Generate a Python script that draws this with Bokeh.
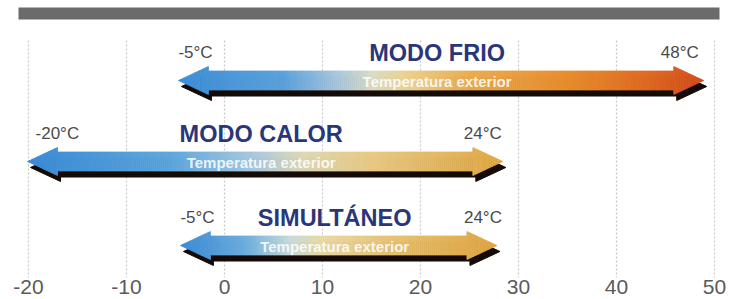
import numpy as np
from bokeh.plotting import figure
from bokeh.models import Range1d, FixedTicker, ColumnDataSource
from bokeh.core.properties import value
from bokeh.embed import file_html
from bokeh.resources import INLINE

# ---------------- data ----------------
modes = ["MODO FRIO", "MODO CALOR", "SIMULTÁNEO"]
range_min = [-5, -20, -5]          # labelled limits (°C)
range_max = [48, 24, 24]
arrow_start = [-4.7, -20.1, -4.5]  # where the drawn arrows start / end (axis units)
arrow_end = [48.9, 28.4, 27.8]
sublabel = "Temperatura exterior"
x_ticks = [-20, -10, 0, 10, 20, 30, 40, 50]
x_tick_labels = ["-20", "-10", "0", "10", "20", "30", "40", "50"]

min_labels = [f"{v}°C" for v in range_min]
max_labels = [f"{v}°C" for v in range_max]

# ---------------- layout / style ----------------
W, H = 736, 296
PX = 9.8                           # pixels per axis unit
X0 = -224 / PX
X1 = X0 + W / PX
AXIS_H = 19
Y_BOTTOM, Y_TOP = H - AXIS_H, 0    # y data == page pixel row
row_y = [80, 161, 245]             # arrow centre rows
HEAD_LEN = 30 / PX
HEAD_HALF = 14
BODY_HALF = 9.5
SH_DX, SH_DY = 3 / PX, 6
FONT = "Liberation Sans"
NAVY = "#2a3679"
gradients = [
    [(0, "#3d8ed6"), (0.2, "#5aa2dc"), (0.3, "#a5c6df"), (0.37, "#d9dcc4"), (0.43, "#ead394"),
     (0.55, "#e9ad52"), (0.75, "#e78c2c"), (0.92, "#dc6322"), (1, "#d24c1c")],
    [(0, "#3a8ad4"), (0.3, "#5ea6dc"), (0.48, "#a9c9e0"), (0.58, "#dcd8b4"), (0.72, "#e8c985"),
     (1, "#dfa742")],
    [(0, "#3a8ad4"), (0.2, "#6aaddf"), (0.35, "#c8dada"), (0.45, "#e8d8a2"), (0.7, "#e7bf6a"),
     (1, "#dfa443")],
]
min_dx = [0, 8, 0]
max_dx = [-5, -1, 5]


def hex2rgb(h):
    return np.array([int(h[i:i + 2], 16) for i in (1, 3, 5)], dtype=float)


def interp_color(stops, f):
    for (f0, c0), (f1, c1) in zip(stops[:-1], stops[1:]):
        if f <= f1:
            t = 0 if f1 == f0 else (f - f0) / (f1 - f0)
            c = hex2rgb(c0) * (1 - t) + hex2rgb(c1) * t
            return "#%02x%02x%02x" % tuple(int(round(v)) for v in c)
    return stops[-1][1]


p = figure(width=W, height=H, x_range=Range1d(X0, X1), y_range=Range1d(Y_BOTTOM, Y_TOP),
           output_backend="svg", toolbar_location=None, y_axis_location=None,
           min_border_left=0, min_border_right=0, min_border_top=0, min_border_bottom=0)
p.outline_line_color = None
p.xgrid.visible = False
p.ygrid.visible = False
p.background_fill_color = "white"

# header bar
p.quad(left=[(18 - 224) / PX], right=[(719 - 224) / PX], top=[7], bottom=[19],
       fill_color="#6b6b6b", line_color=None)

# dotted grid lines
p.segment(x0=x_ticks, x1=x_ticks, y0=[40] * len(x_ticks), y1=[400] * len(x_ticks),
          line_color="#c9c9c9", line_width=1.2, line_dash="2 2")

# arrows
for s, e, c, stops in zip(arrow_start, arrow_end, row_y, gradients):
    # shadow
    ox = [s, s + HEAD_LEN, s + HEAD_LEN, e - HEAD_LEN, e - HEAD_LEN, e,
          e - HEAD_LEN, e - HEAD_LEN, s + HEAD_LEN, s + HEAD_LEN]
    oy = [c, c - HEAD_HALF, c - BODY_HALF, c - BODY_HALF, c - HEAD_HALF, c,
          c + HEAD_HALF, c + BODY_HALF, c + BODY_HALF, c + HEAD_HALF]
    p.patch([x + SH_DX for x in ox], [y + SH_DY for y in oy], fill_color="#140a06",
            line_color="#140a06", line_width=1)

    segs = []
    lh = np.linspace(s, s + HEAD_LEN, 12)
    segs += [(a, b, HEAD_HALF * (a - s) / HEAD_LEN, HEAD_HALF * (b - s) / HEAD_LEN)
             for a, b in zip(lh[:-1], lh[1:])]
    nb = max(2, int((e - s - 2 * HEAD_LEN) * PX / 2))
    bd = np.linspace(s + HEAD_LEN, e - HEAD_LEN, nb + 1)
    segs += [(a, b, BODY_HALF, BODY_HALF) for a, b in zip(bd[:-1], bd[1:])]
    rh = np.linspace(e - HEAD_LEN, e, 12)
    segs += [(a, b, HEAD_HALF * (e - a) / HEAD_LEN, HEAD_HALF * (e - b) / HEAD_LEN)
             for a, b in zip(rh[:-1], rh[1:])]
    xs, ys, cols = [], [], []
    for a, b, ha, hb in segs:
        xs.append([a, b, b, a])
        ys.append([c - ha, c - hb, c + hb, c + ha])
        cols.append(interp_color(stops, ((a + b) / 2 - s) / (e - s)))
    src = ColumnDataSource(dict(xs=xs, ys=ys, c=cols))
    p.patches("xs", "ys", source=src, fill_color="c", line_color="c", line_width=0.8)

mids = [(s + e) / 2 - 4 / PX for s, e in zip(arrow_start, arrow_end)]

# titles
p.text(x=mids, y=[c - 28 for c in row_y], text=modes, text_align="center",
       text_baseline="middle", text_font=value(FONT), text_font_style="bold",
       text_font_size="23.5px", text_color=NAVY)
# range labels
p.text(x=[s + d / PX for s, d in zip(arrow_start, min_dx)], y=[c - 28 for c in row_y],
       text=min_labels, text_align="left", text_baseline="middle", text_font=value(FONT),
       text_font_size="17px", text_color="#4a4a4a")
p.text(x=[e + d / PX for e, d in zip(arrow_end, max_dx)], y=[c - 28 for c in row_y],
       text=max_labels, text_align="right", text_baseline="middle", text_font=value(FONT),
       text_font_size="17px", text_color="#4a4a4a")
# sub labels on arrows
p.text(x=mids, y=[c + 1 for c in row_y], text=[sublabel] * len(modes), text_align="center",
       text_baseline="middle", text_font=value(FONT), text_font_style="bold",
       text_font_size="15px", text_color="white", text_alpha=0.85)

ax = p.xaxis[0]
ax.ticker = FixedTicker(ticks=x_ticks)
ax.major_label_overrides = {t: lab for t, lab in zip(x_ticks, x_tick_labels)}
ax.axis_line_color = None
ax.major_tick_line_color = None
ax.minor_tick_line_color = None
ax.major_tick_out = 0
ax.major_label_standoff = 2
ax.major_label_text_font_size = "21px"
ax.major_label_text_font = FONT
ax.major_label_text_color = "#5a5a5a"

open("out.html", "w").write(file_html(p, INLINE))
